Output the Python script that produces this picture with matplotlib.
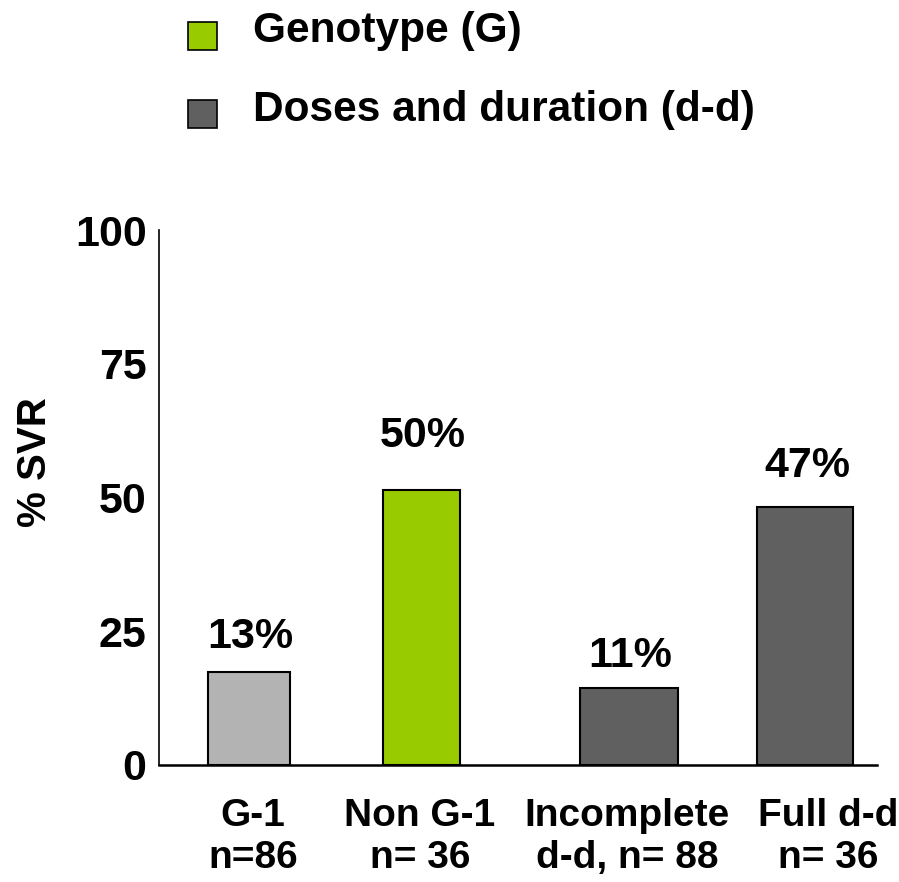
import matplotlib.pyplot as plt
from matplotlib.patches import Rectangle

# ===============================
# DATA
# ===============================
categories = ["G-1\nn=86", "Non G-1\nn= 36", "Incomplete\nd-d, n= 88", "Full d-d\nn= 36"]
svr_height = [17.4, 51.4, 14.4, 48.2]
svr_labels = ["13%", "50%", "11%", "47%"]
bar_colors = ["#b3b3b3", "#99cc00", "#606060", "#606060"]
legend_names = ["Genotype (G)", "Doses and duration (d-d)"]
legend_colors = ["#99cc00", "#606060"]
yticks = [0, 25, 50, 75, 100]

# layout (category positions / widths)
x_pos = [0.0, 0.986, 2.17, 3.18]
widths = [0.47, 0.44, 0.56, 0.55]
label_x = [0.023, 0.977, 2.16, 3.31]
label_off = [4.5, 8.0, 3.9, 5.6]

plt.rcParams["font.family"] = ["Liberation Sans", "DejaVu Sans"]
plt.rcParams["font.weight"] = "bold"

fig = plt.figure(figsize=(8.99, 8.82), dpi=100)
ax = fig.add_axes([0.1769, 0.1327, 0.7986, 0.6065])

bars = ax.bar(x_pos, svr_height, width=widths, color=bar_colors,
              edgecolor="black", linewidth=1.5, zorder=3)

for x, h, lab, off in zip(x_pos, svr_height, svr_labels, label_off):
    ax.text(x + 0.01, h + off, lab, ha="center", va="baseline",
            fontsize=31, fontweight="bold")

for x, lab in zip(label_x, categories):
    ax.text(x, -0.062, lab, transform=ax.get_xaxis_transform(),
            ha="center", va="top", fontsize=28, fontweight="bold",
            linespacing=1.22)

ax.set_xlim(-0.514, 3.59)
ax.set_ylim(0, 100)
ax.set_yticks(yticks)
ax.set_yticklabels([str(v) for v in yticks], fontsize=31, fontweight="bold")
ax.tick_params(axis="y", length=0, pad=9)
ax.set_xticks([])
ax.spines["top"].set_visible(False)
ax.spines["right"].set_visible(False)
ax.spines["left"].set_linewidth(1.2)
ax.spines["bottom"].set_linewidth(1.8)

fig.text(0.039, 0.476, "% SVR", rotation=90, ha="center", va="center",
         fontsize=29, fontweight="bold")

# legend drawn by hand
sq_y = [0.943, 0.855]
txt_y = [0.952, 0.863]
for name, col, sy, ty in zip(legend_names, legend_colors, sq_y, txt_y):
    fig.patches.append(Rectangle((0.209, sy), 0.032, 0.032, transform=fig.transFigure,
                                 facecolor=col, edgecolor="black", linewidth=1.2))
    fig.text(0.281, ty, name, ha="left", va="baseline", fontsize=30.5, fontweight="bold")

plt.savefig("out.png", dpi=100)
